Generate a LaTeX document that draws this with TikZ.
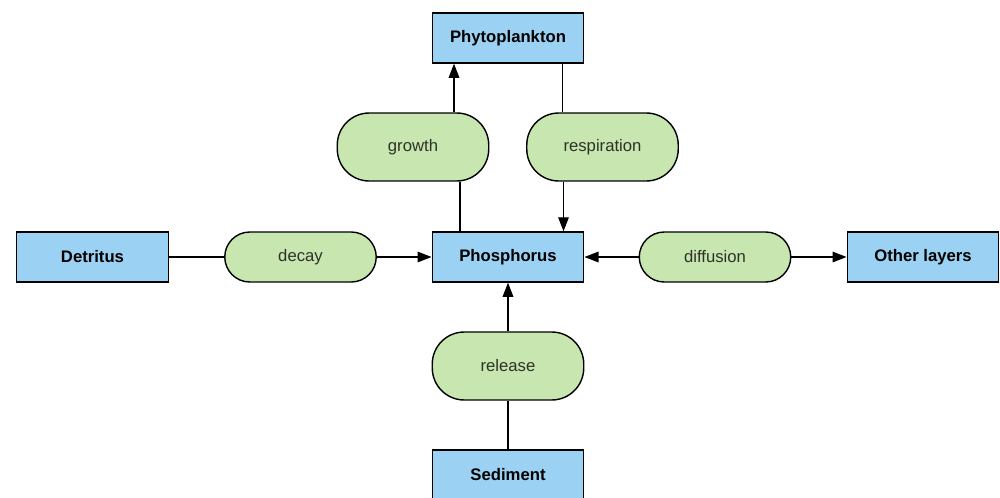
\documentclass[tikz,border=0pt]{standalone}
\usepackage{fontspec}
\setmainfont{Liberation Sans}
\usetikzlibrary{arrows.meta,positioning}
\definecolor{poolblue}{RGB}{155,210,243}
\definecolor{fluxgreen}{RGB}{200,230,175}
\definecolor{fluxtext}{RGB}{45,50,40}

\begin{document}
\begin{tikzpicture}[x=0.02cm, y=-0.02cm,
  every node/.style={font=\fontsize{9.5}{11}\selectfont},
  pool/.style={draw, fill=poolblue, line width=0.8pt, minimum width=3.03cm, minimum height=1cm, inner sep=0pt, font=\fontsize{9.5}{11}\selectfont\bfseries},
  flux/.style={draw, fill=fluxgreen, line width=0.8pt, minimum width=3.03cm, minimum height=1cm, rounded corners=0.5cm, inner sep=0pt, text=fluxtext},
  tallflux/.style={flux, minimum height=1.36cm, rounded corners=0.64cm},
  link/.style={line width=0.8pt},
  flow/.style={link, -{Triangle[length=8pt,width=6pt]}}]
  \clip (0,0) rectangle (1000,497);

  % pools
  \node[pool] (phyto) at (508,38) {Phytoplankton};
  \node[pool] (phos) at (508,257) {Phosphorus};
  \node[pool] (detritus) at (92.5,257) {Detritus};
  \node[pool] (other) at (923,257) {Other layers};
  \node[pool] (sediment) at (508,475) {Sediment};

  % fluxes
  \node[tallflux] (growth) at (413,147) {growth};
  \node[tallflux] (resp) at (602.5,147) {respiration};
  \node[flux] (decay) at (300.5,257) {decay};
  \node[flux] (diff) at (715,257) {diffusion};
  \node[tallflux] (release) at (508,366) {release};

  % uptake and respiration
  \draw[link] ([xshift=-0.96cm]phos.north) -- ([xshift=-0.96cm]phos.north |- growth.south);
  \draw[flow] ([xshift=0.82cm]growth.north) -- ([xshift=0.82cm]growth.north |- phyto.south);
  \draw[link] ([xshift=-0.8cm]resp.north |- phyto.south) -- ([xshift=-0.8cm]resp.north);
  \draw[flow] ([xshift=-0.78cm]resp.south) -- ([xshift=-0.78cm]resp.south |- phos.north);

  % horizontal exchange
  \draw[link] (detritus) -- (decay);
  \draw[flow] (decay) -- (phos);
  \draw[flow] (diff) -- (phos);
  \draw[flow] (diff) -- (other);

  % sediment release
  \draw[link] (sediment) -- (release);
  \draw[flow] (release) -- (phos);
\end{tikzpicture}
\end{document}
